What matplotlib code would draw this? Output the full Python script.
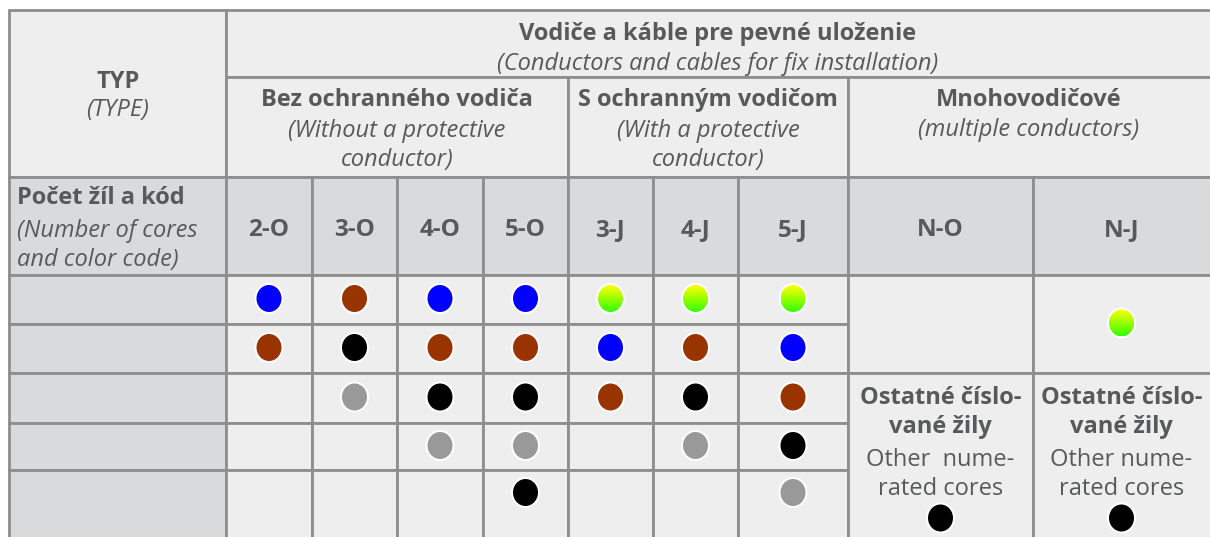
import numpy as np
import matplotlib
matplotlib.use("Agg")
import matplotlib.pyplot as plt
from matplotlib.patches import Rectangle, Ellipse

# ---- data ----
TITLE = "Vodiče a káble pre pevné uloženie"
SUBTITLE = "(Conductors and cables for fix installation)"
GROUPS = [
    ("Bez ochranného vodiča", "(Without a protective\nconductor)"),
    ("S ochranným vodičom", "(With a protective\nconductor)"),
    ("Mnohovodičové", "(multiple conductors)"),
]
CODES = ["2-O", "3-O", "4-O", "5-O", "3-J", "4-J", "5-J"]
MULTI_CODES = ["N-O", "N-J"]

# core colours per code, top to bottom (None = empty)
CORES = {
    "2-O": ["blue", "brown", None, None, None],
    "3-O": ["brown", "black", "gray", None, None],
    "4-O": ["blue", "brown", "black", "gray", None],
    "5-O": ["blue", "brown", "black", "gray", "black"],
    "3-J": ["gy", "blue", "brown", None, None],
    "4-J": ["gy", "brown", "black", "gray", None],
    "5-J": ["gy", "blue", "brown", "black", "gray"],
}
MULTI_PE = {"N-O": None, "N-J": "gy"}
OTHER_BOLD = "Ostatné číslo-\nvané žily"
OTHER_TXT = {"N-O": "Other  nume-\nrated cores", "N-J": "Other nume-\nrated cores"}

# ---- style ----
FILL = {"blue": "#0000ff", "brown": "#993300", "black": "#000000", "gray": "#999999"}
LIGHT = "#edeeed"
DARK = "#d9dadb"
LINE = "#8e8e8e"
TXT = "#58595b"
FONT = "Open Sans"
FS = 17
DY = 2.5  # text baseline nudge

fig = plt.figure(figsize=(12.1, 5.37), dpi=100)
ax = fig.add_axes([0, 0, 1, 1])
ax.set_xlim(0, 1210)
ax.set_ylim(537, 0)
ax.axis("off")

X0, XL = 9, 226
col_x = [226, 312, 397, 483, 568, 653, 738, 848]
multi_x = [848, 1033, 1210]
YA, YB, YC, YD = 10, 77, 177, 275
row_y = [275, 324, 373, 423, 470, 517]
YEND = 545


def cell(x0, y0, x1, y1, fc):
    ax.add_patch(Rectangle((x0, y0), x1 - x0, y1 - y0, facecolor=fc,
                           edgecolor=LINE, lw=2.0, zorder=1))


def txt(x, y, s, bold=False, italic=False, size=FS, ha="center", ls=1.3):
    ax.text(x, y + DY, s, ha=ha, va="center", color=TXT, fontsize=size,
            family=FONT, fontweight="bold" if bold else "normal",
            style="italic" if italic else "normal", linespacing=ls, zorder=5)


def dot(cx, cy, kind):
    w, h = 25, 27
    ax.add_patch(Ellipse((cx, cy), w + 4, h + 4, facecolor="white",
                         edgecolor="none", zorder=3))
    if kind == "gy":
        e = Ellipse((cx, cy), w, h, facecolor="none", edgecolor="none", zorder=4)
        ax.add_patch(e)
        t = np.linspace(0, 1, 64)[:, None]
        top = np.array([1.0, 1.0, 0.0])
        bot = np.array([0.2, 1.0, 0.0])
        grad = (top * (1 - t) + bot * t)[:, None, :].repeat(4, axis=1)
        im = ax.imshow(grad, extent=(cx - w / 2, cx + w / 2, cy + h / 2, cy - h / 2),
                       origin="upper", aspect="auto", zorder=4, interpolation="bilinear")
        im.set_clip_path(e)
    else:
        ax.add_patch(Ellipse((cx, cy), w, h, facecolor=FILL[kind],
                             edgecolor="none", zorder=4))


# header cells
cell(X0, YA, XL, YC, LIGHT)
cell(XL, YA, 1220, YB, LIGHT)
cell(col_x[0], YB, col_x[4], YC, LIGHT)
cell(col_x[4], YB, col_x[7], YC, LIGHT)
cell(multi_x[0], YB, 1220, YC, LIGHT)
cell(X0, YC, XL, YD, DARK)
for i, code in enumerate(CODES):
    cell(col_x[i], YC, col_x[i + 1], YD, DARK)
    txt((col_x[i] + col_x[i + 1]) / 2, 228, code, bold=True, size=17.5)
for i, code in enumerate(MULTI_CODES):
    cell(multi_x[i], YC, multi_x[i + 1] + (10 if i == 1 else 0), YD, DARK)
    txt((multi_x[i] + multi_x[i + 1]) / 2, 228, code, bold=True, size=17.5)

# body cells
for r in range(5):
    y0 = row_y[r]
    y1 = row_y[r + 1] if r < 4 else YEND
    cell(X0, y0, XL, y1, DARK)
    for i, code in enumerate(CODES):
        cell(col_x[i], y0, col_x[i + 1], y1, LIGHT)
        kind = CORES[code][r]
        if kind:
            dot((col_x[i] + col_x[i + 1]) / 2, (row_y[r] + row_y[r + 1]) / 2 - 1, kind)

for i, code in enumerate(MULTI_CODES):
    xa, xb = multi_x[i], multi_x[i + 1] + (10 if i == 1 else 0)
    xc = (multi_x[i] + multi_x[i + 1]) / 2
    cell(xa, row_y[0], xb, row_y[2], LIGHT)
    cell(xa, row_y[2], xb, YEND, LIGHT)
    if MULTI_PE[code]:
        dot(xc, 323, MULTI_PE[code])
    txt(xc, 410, OTHER_BOLD, bold=True)
    txt(xc, 472, OTHER_TXT[code])
    dot(xc, 518, "black")

# header text
txt(118, 80, "TYP", bold=True)
txt(118, 108, "(TYPE)", italic=True)
txt(718, 32, TITLE, bold=True)
txt(718, 61, SUBTITLE, italic=True)
centers = [(col_x[0] + col_x[4]) / 2, (col_x[4] + col_x[7]) / 2, (multi_x[0] + multi_x[2]) / 2]
for (head, sub), cx in zip(GROUPS, centers):
    txt(cx, 97, head, bold=True)
    n = sub.count("\n")
    txt(cx, 128 + 15 * n, sub, italic=True)
txt(17, 196, "Počet žíl a kód", bold=True, ha="left")
txt(17, 243, "(Number of cores\nand color code)", italic=True, ha="left")

ax.set_xlim(0, 1210)
ax.set_ylim(537, 0)
fig.savefig("out.png", dpi=100)
